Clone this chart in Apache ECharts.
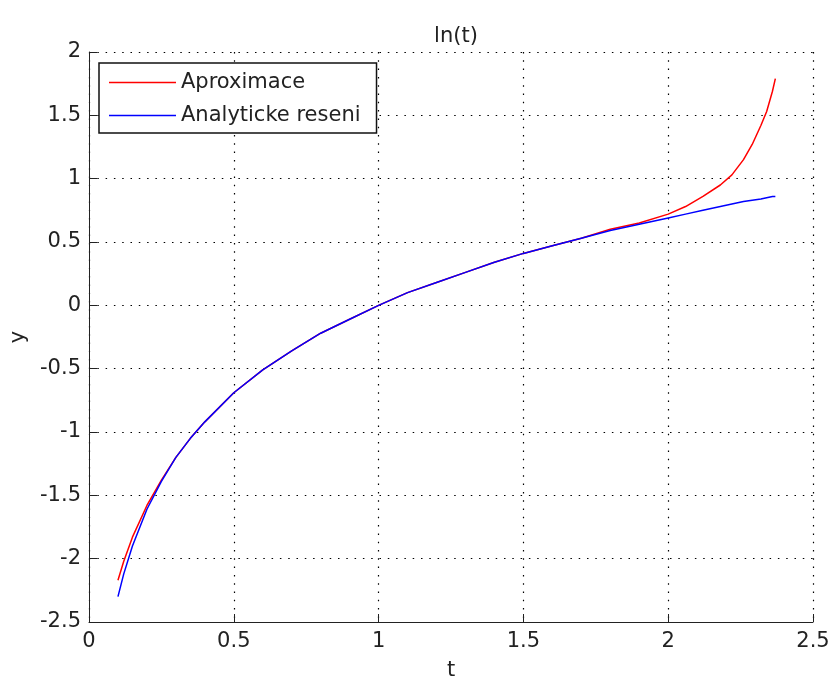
<!DOCTYPE html>
<html>
<head>
<meta charset="utf-8">
<title>ln(t)</title>
<script src="https://cdn.jsdelivr.net/npm/echarts@6/dist/echarts.min.js"></script>
<style>
  html, body { margin: 0; padding: 0; background: #fff; }
  #chart { width: 833px; height: 686px; }
</style>
</head>
<body>
<div id="chart"></div>
<script>
// Sample times t and the two solutions y(t)
const tValues = [0.10, 0.12, 0.15, 0.20, 0.25, 0.30, 0.35, 0.40, 0.50, 0.60,
                 0.70, 0.80, 0.90, 1.00, 1.10, 1.20, 1.30, 1.40, 1.50, 1.60,
                 1.70, 1.80, 1.90, 2.00, 2.06, 2.12, 2.18, 2.22, 2.26, 2.29,
                 2.32, 2.34, 2.36, 2.37];

const approxValues = [-2.17, -2.02, -1.83, -1.58, -1.38, -1.20, -1.05, -0.92, -0.69, -0.51,
                      -0.36, -0.22, -0.11, 0.00, 0.10, 0.18, 0.26, 0.34, 0.41, 0.47,
                      0.53, 0.60, 0.65, 0.72, 0.78, 0.86, 0.95, 1.03, 1.15, 1.27,
                      1.42, 1.53, 1.69, 1.79];

const exactValues = [-2.30, -2.12, -1.90, -1.61, -1.39, -1.20, -1.05, -0.92, -0.69, -0.51,
                     -0.36, -0.22, -0.11, 0.00, 0.10, 0.18, 0.26, 0.34, 0.41, 0.47,
                     0.53, 0.59, 0.64, 0.69, 0.72, 0.75, 0.78, 0.80, 0.82, 0.83,
                     0.84, 0.85, 0.86, 0.86];

const seriesNames = ['Aproximace', 'Analyticke reseni'];

const xTickLabels = ['0', '0.5', '1', '1.5', '2', '2.5'];
const yTickLabels = ['-2.5', '-2', '-1.5', '-1', '-0.5', '0', '0.5', '1', '1.5', '2'];

const FONT = 'DejaVu Sans';
const TEXT = '#222';

function pairs(ys) {
  return tValues.map((t, i) => [t, ys[i]]);
}
function labelFor(list, min, step) {
  return v => {
    const i = Math.round((v - min) / step);
    return list[i] !== undefined ? list[i] : '';
  };
}

const chart = echarts.init(document.getElementById('chart'), null, { renderer: 'canvas' });

const gridLine = { show: true, lineStyle: { color: '#000', width: 1.2, type: [1.5, 6.8] } };
const axisLine = { show: true, onZero: false, lineStyle: { color: TEXT, width: 1 } };
const axisTick = { show: true, inside: true, length: 8, lineStyle: { color: TEXT, width: 1 } };

chart.setOption({
  backgroundColor: '#fff',
  animation: false,
  title: {
    text: 'ln(t)',
    left: 451,
    top: 21,
    textAlign: 'center',
    textStyle: { fontFamily: FONT, fontSize: 21, fontWeight: 'normal', color: TEXT }
  },
  grid: { left: 89, right: 20, top: 52, bottom: 63, containLabel: false },
  legend: {
    orient: 'vertical',
    left: 99,
    top: 63,
    padding: [9, 16, 7, 10],
    itemGap: 12,
    itemWidth: 67,
    itemHeight: 1.5,
    icon: 'rect',
    borderColor: '#111',
    borderWidth: 1.5,
    backgroundColor: '#fff',
    data: seriesNames,
    textStyle: { fontFamily: FONT, fontSize: 21, color: TEXT, lineHeight: 21 }
  },
  xAxis: {
    type: 'value',
    min: 0,
    max: 2.5,
    interval: 0.5,
    name: 't',
    nameLocation: 'middle',
    nameGap: 38,
    nameTextStyle: { fontFamily: FONT, fontSize: 21, color: TEXT },
    axisLine: axisLine,
    axisTick: axisTick,
    splitLine: gridLine,
    axisLabel: {
      margin: 9,
      fontFamily: FONT, fontSize: 21, color: TEXT,
      formatter: labelFor(xTickLabels, 0, 0.5)
    }
  },
  yAxis: {
    type: 'value',
    min: -2.5,
    max: 2,
    interval: 0.5,
    name: 'y',
    nameLocation: 'middle',
    nameGap: 58,
    nameTextStyle: { fontFamily: FONT, fontSize: 21, color: TEXT },
    axisLine: axisLine,
    axisTick: axisTick,
    splitLine: gridLine,
    axisLabel: {
      margin: 8,
      fontFamily: FONT, fontSize: 21, color: TEXT,
      formatter: labelFor(yTickLabels, -2.5, 0.5)
    }
  },
  series: [
    {
      name: seriesNames[0],
      type: 'line',
      data: pairs(approxValues),
      symbol: 'none',
      smooth: false,
      lineStyle: { color: '#ff0000', width: 1.5 },
      itemStyle: { color: '#ff0000' }
    },
    {
      name: seriesNames[1],
      type: 'line',
      data: pairs(exactValues),
      symbol: 'none',
      smooth: false,
      lineStyle: { color: '#0000ff', width: 1.5 },
      itemStyle: { color: '#0000ff' }
    }
  ]
});
</script>
</body>
</html>
